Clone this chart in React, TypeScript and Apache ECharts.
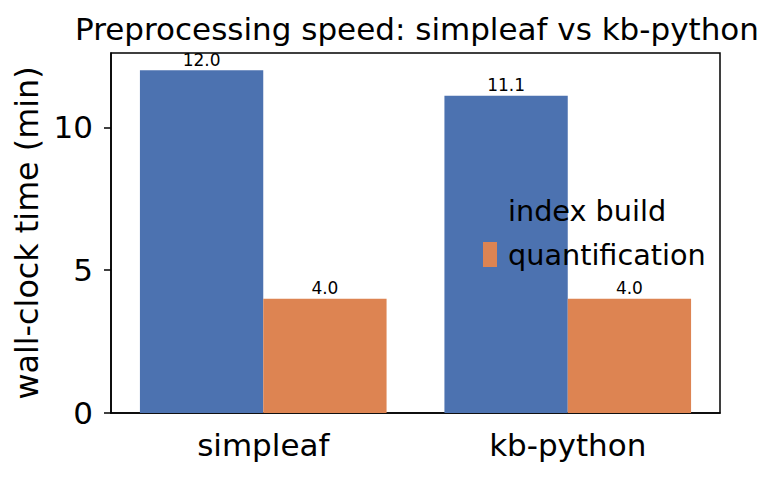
import React, { useEffect, useRef } from "react";
import * as echarts from "echarts";

const categories = ["simpleaf", "kb-python"];
const indexBuild = [12.0, 11.1];
const quantification = [4.0, 4.0];
const yTicks = [0, 5, 10];
const seriesNames = ["index build", "quantification"];

const FONT = "DejaVu Sans";

export default function App() {
  const ref = useRef<HTMLDivElement>(null);
  useEffect(() => {
    document.body.style.margin = "0";
    const chart = echarts.init(ref.current!, null, { renderer: "svg" });
    const label = {
      show: true,
      position: "top",
      distance: 2,
      fontFamily: FONT,
      fontSize: 17,
      color: "#000",
      formatter: (p: any) => Number(p.value).toFixed(1),
    };
    chart.setOption({
      animation: false,
      backgroundColor: "#fff",
      title: {
        text: "Preprocessing speed: simpleaf vs kb-python",
        left: 412,
        textAlign: "center",
        top: 8,
        textStyle: { fontFamily: FONT, fontSize: 31, fontWeight: "normal", color: "#000" },
      },
      grid: {
        left: 111,
        right: 54,
        top: 53,
        bottom: 64,
        show: true,
        borderColor: "#000",
        borderWidth: 1.5,
        backgroundColor: "transparent",
      },
      legend: {
        data: seriesNames,
        orient: "vertical",
        left: 483,
        top: 196,
        padding: 0,
        itemWidth: 14,
        itemHeight: 25,
        itemGap: 15,
        icon: "rect",
        textStyle: { fontFamily: FONT, fontSize: 28.7, color: "#000", padding: [0, 0, 0, 6] },
      },
      xAxis: {
        type: "category",
        data: categories,
        axisLine: { lineStyle: { color: "#000", width: 1.5 } },
        axisTick: { alignWithLabel: true, length: 7, lineStyle: { color: "#000", width: 1.5 } },
        axisLabel: { fontFamily: FONT, fontSize: 31, color: "#000", margin: 16 },
      },
      yAxis: {
        type: "value",
        min: 0,
        max: 12.6,
        interval: 5,
        name: "wall-clock time (min)",
        nameLocation: "middle",
        nameGap: 66,
        nameTextStyle: { fontFamily: FONT, fontSize: 31.8, color: "#000" },
        splitLine: { show: false },
        axisLine: { show: true, lineStyle: { color: "#000", width: 1.5 } },
        axisTick: { show: true, length: 7, customValues: yTicks, lineStyle: { color: "#000", width: 1.5 } },
        axisLabel: { fontFamily: FONT, fontSize: 31, color: "#000", margin: 18, customValues: yTicks },
      },
      series: [
        {
          name: seriesNames[0],
          type: "bar",
          data: indexBuild,
          itemStyle: { color: "#4C72B0" },
          barGap: "0%",
          barCategoryGap: "19%",
          label,
        },
        {
          name: seriesNames[1],
          type: "bar",
          data: quantification,
          itemStyle: { color: "#DD8452" },
          barGap: "0%",
          barCategoryGap: "19%",
          label,
        },
      ],
    });
    return () => chart.dispose();
  }, []);
  return <div ref={ref} style={{ width: 774, height: 477, position: "absolute", left: 0, top: 0 }} />;
}
